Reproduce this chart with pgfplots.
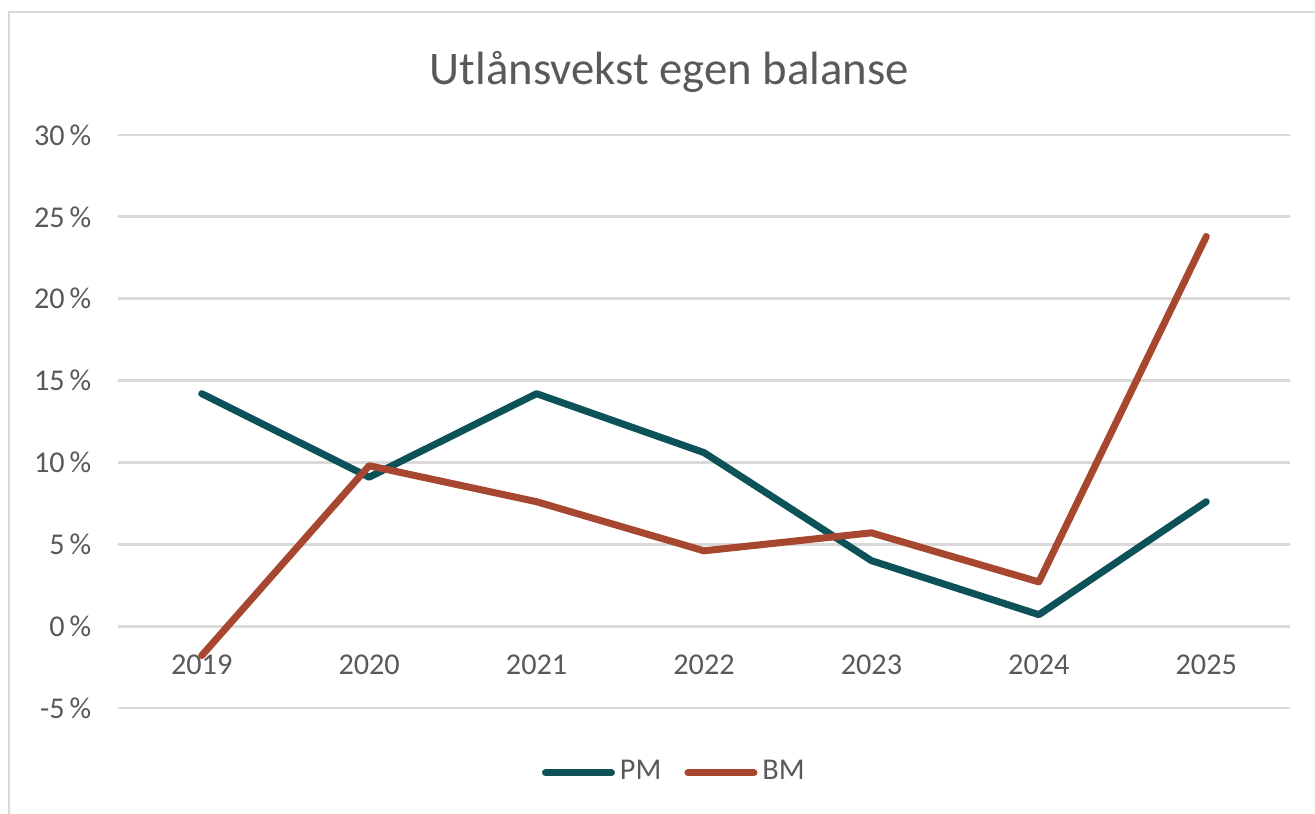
\documentclass[border=0pt]{standalone}
\usepackage{fontspec}
\setmainfont{Carlito}
\usepackage{pgfplots}
\pgfplotsset{compat=1.18}
\definecolor{pmcol}{RGB}{12,82,88}
\definecolor{bmcol}{RGB}{168,71,48}
\definecolor{gridcol}{RGB}{217,217,217}
\definecolor{txtcol}{RGB}{89,89,89}
\begin{document}
\begin{tikzpicture}
\useasboundingbox (0,0) rectangle (13.15,8.14);
\draw[gridcol, line width=0.8pt] (0.09,0) -- (0.09,8.02) -- (13.15,8.02);
\node[txtcol, anchor=base, inner sep=0pt, font=\fontsize{13.3}{16}\selectfont] at (6.695,7.29) {Utlånsvekst egen balanse};
\begin{axis}[
  at={(1.18cm,1.06cm)}, anchor=south west,
  scale only axis, width=11.72cm, height=5.73cm,
  xmin=-0.5, xmax=6.5, ymin=-5, ymax=30,
  xtick={0,1,2,3,4,5,6},
  xticklabels={2019,2020,2021,2022,2023,2024,2025},
  ytick={-5,0,5,10,15,20,25,30},
  yticklabels={-5\,\%,0\,\%,5\,\%,10\,\%,15\,\%,20\,\%,25\,\%,30\,\%},
  axis line style={draw=none},
  major tick style={draw=none},
  ymajorgrids, grid style={gridcol, line width=0.8pt},
  tick label style={txtcol, font=\fontsize{8.6}{10}\selectfont},
  yticklabel style={anchor=east, inner sep=0pt, xshift=-2.6mm},
  xticklabel style={anchor=center, inner sep=0pt, yshift=4.3mm},
  clip=false,
  legend columns=-1,
  legend style={at={(0.476,-0.113)}, anchor=center, draw=none, fill=none,
    font=\fontsize{8.6}{10}\selectfont, text=txtcol,
    nodes={inner sep=0.5mm},
    /tikz/every even column/.append style={column sep=1.8mm}},
  legend image code/.code={\draw[#1, line cap=round] (0mm,0mm) -- (6.6mm,0mm);},
]
\addplot[pmcol, line width=2pt, line join=round, line cap=round] coordinates {
  (0,14.2)(1,9.1)(2,14.2)(3,10.6)(4,4.0)(5,0.7)(6,7.6)};
\addlegendentry{PM}
\addplot[bmcol, line width=2pt, line join=round, line cap=round] coordinates {
  (0,-1.8)(1,9.8)(2,7.6)(3,4.6)(4,5.7)(5,2.7)(6,23.8)};
\addlegendentry{BM}
\end{axis}
\end{tikzpicture}
\end{document}
